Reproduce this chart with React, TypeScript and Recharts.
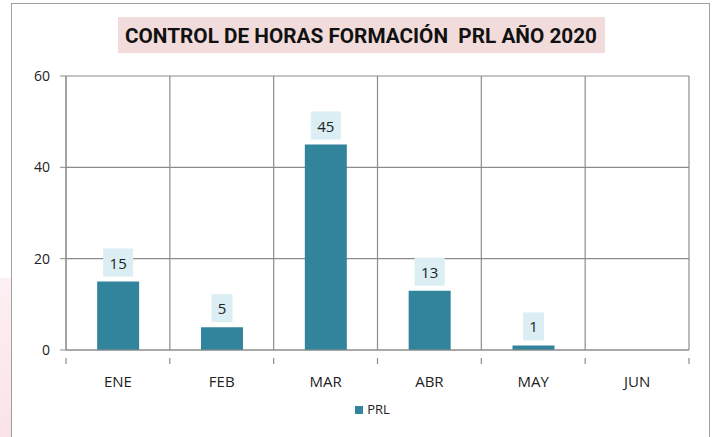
import React from "react";
import {
  BarChart,
  Bar,
  XAxis,
  YAxis,
  CartesianGrid,
  Legend,
  LabelList,
} from "recharts";

const months = ["ENE", "FEB", "MAR", "ABR", "MAY", "JUN"];
const prlHours = [15, 5, 45, 13, 1, null];
const yTicks = [0, 20, 40, 60];

const data = months.map((m, i) => ({ month: m, PRL: prlHours[i] }));

const FONT = "'Open Sans', 'Noto Sans', sans-serif";
const GRID = "#8c8c8c";
const PLOT_LEFT = 66;
const PLOT_RIGHT = 689;
const STEP = (PLOT_RIGHT - PLOT_LEFT) / months.length;

// light blue box behind each value, sitting above the bar
const ValueBox = (props: any) => {
  const { x, y, width, value } = props;
  if (value == null) return null;
  const txt = String(value);
  const w = txt.length * 9 + 12;
  const h = 28;
  const cx = x + width / 2;
  const bottom = y - 5;
  return (
    <g>
      <rect x={cx - w / 2} y={bottom - h} width={w} height={h} fill="#DAEEF3" />
      <text
        x={cx}
        y={bottom - h / 2}
        textAnchor="middle"
        dominantBaseline="central"
        fontSize={15}
        fontFamily={FONT}
        fill="#222"
      >
        {txt}
      </text>
    </g>
  );
};

// category label plus the small tick marks on the category boundaries
const MonthTick = (props: any) => {
  const { x, y, payload, index } = props;
  const left = x - STEP / 2;
  return (
    <g>
      <line x1={left} x2={left} y1={y} y2={y + 6} stroke={GRID} strokeWidth={1.2} />
      {index === months.length - 1 && (
        <line x1={x + STEP / 2} x2={x + STEP / 2} y1={y} y2={y + 6} stroke={GRID} strokeWidth={1.2} />
      )}
      <text x={x} y={y + 29} textAnchor="middle" fontSize={15} fontFamily={FONT} fill="#222">
        {payload.value}
      </text>
    </g>
  );
};

export default function App() {
  return (
    <div style={{ position: "relative", width: 714, height: 437, background: "#fff", overflow: "hidden" }}>
      <style>{"body{margin:0}"}</style>
      <div
        style={{
          position: "absolute",
          left: 0,
          top: 278,
          width: 11,
          height: 159,
          background: "linear-gradient(#fdf0f2, #fbe3e7)",
        }}
      />
      <div
        style={{
          position: "absolute",
          left: 11,
          top: 3,
          width: 699,
          height: 440,
          border: "1px solid #a0a0a0",
          boxSizing: "border-box",
        }}
      />
      <div
        style={{
          position: "absolute",
          left: 118,
          top: 17,
          width: 487,
          height: 36,
          background: "#F2DCDB",
        }}
      >
        <svg width={487} height={36}>
          <text
            x={7}
            y={26}
            textLength={472}
            lengthAdjust="spacingAndGlyphs"
            fontFamily="Roboto, 'Noto Sans', sans-serif"
            fontWeight={700}
            fontSize={21}
            fill="#111"
            style={{ whiteSpace: "pre" }}
          >
            {"CONTROL DE HORAS FORMACIÓN  PRL AÑO 2020"}
          </text>
        </svg>
      </div>
      <div style={{ position: "absolute", left: 0, top: 0 }}>
        <BarChart
          width={714}
          height={437}
          data={data}
          margin={{ top: 76, right: 714 - PLOT_RIGHT, bottom: 57, left: 0 }}
          barCategoryGap="30%"
        >
          <CartesianGrid
            stroke={GRID}
            strokeWidth={1.2}
            verticalCoordinatesGenerator={({ offset }: any) =>
              months.map((_, i) => offset.left + (i * offset.width) / months.length).concat(offset.left + offset.width)
            }
          />
          <XAxis
            dataKey="month"
            height={30}
            stroke={GRID}
            tickLine={false}
            tick={<MonthTick />}
            interval={0}
          />
          <YAxis
            domain={[0, 60]}
            ticks={yTicks}
            width={PLOT_LEFT}
            tickSize={6}
            tickMargin={10}
            stroke={GRID}
            tick={{ fill: "#222", fontSize: 14, fontFamily: FONT }}
          />
          <Legend
            verticalAlign="middle"
            align="center"
            layout="horizontal"
            iconType="square"
            iconSize={8}
            formatter={(v) => (
              <span style={{ color: "#222", fontSize: 13, fontFamily: FONT }}>{v}</span>
            )}
            wrapperStyle={{ top: 400, left: PLOT_LEFT, width: PLOT_RIGHT - PLOT_LEFT }}
          />
          <Bar dataKey="PRL" fill="#31849B" isAnimationActive={false}>
            <LabelList dataKey="PRL" content={ValueBox} />
          </Bar>
        </BarChart>
      </div>
    </div>
  );
}
